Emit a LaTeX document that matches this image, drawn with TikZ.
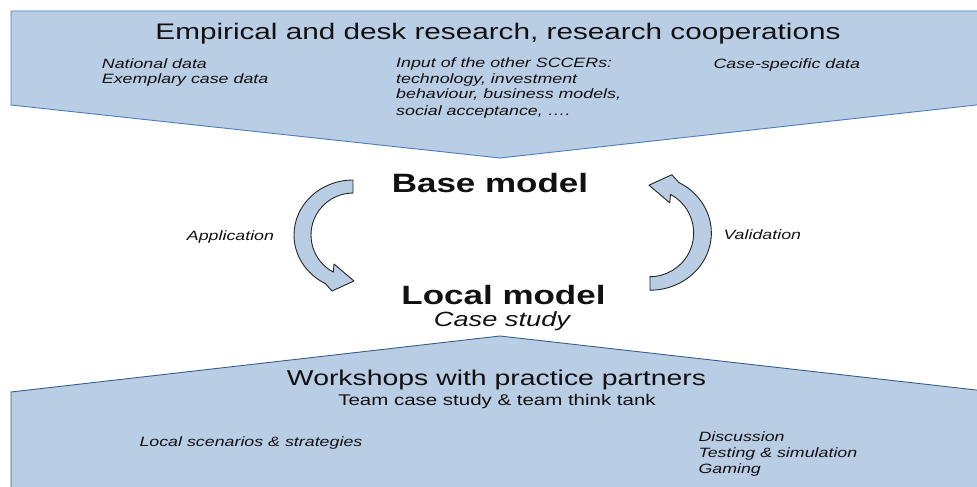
\documentclass[tikz,border=0pt]{standalone}
\usepackage{fontspec}
\setmainfont{Liberation Sans}[FakeStretch=1.32]
\definecolor{boxfill}{HTML}{B9CDE5}
\definecolor{topline}{HTML}{4A7EBB}
\definecolor{botline}{HTML}{385D8A}
\definecolor{ink}{HTML}{111111}
\tikzset{
  txt/.style={inner sep=0pt, text=ink},
  titletxt/.style={txt, font=\fontsize{22.5}{26}\selectfont},
  modeltxt/.style={txt, font=\bfseries\fontsize{26.5}{30}\selectfont},
  casetxt/.style={txt, font=\itshape\fontsize{20.6}{24}\selectfont},
  wstxt/.style={txt, font=\fontsize{21.5}{25}\selectfont},
  teamtxt/.style={txt, font=\fontsize{15.5}{18}\selectfont},
  smalltxt/.style={txt, font=\itshape\fontsize{13.5}{16}\selectfont, align=left},
  arrowfill/.style={fill=boxfill, draw=black!85, line width=0.9pt, line join=round},
  circarrow/.pic={
    \path[arrowfill] (0,-55) arc[start angle=270, end angle=118, x radius=59, y radius=55]
      -- (-21,56) -- (1,46) -- (-19,29) -- (-19.7,37.1)
      arc[start angle=118, end angle=270, radius=42] -- cycle;
  }
}
\begin{document}
\begin{tikzpicture}[x=1pt,y=-1pt]
\useasboundingbox (0,0) rectangle (977,487);
\clip (0,0) rectangle (977,487);
% top band
\path[fill=boxfill, draw=topline, line width=0.9pt]
  (11,11) -- (985,11) -- (985,104) -- (500,158) -- (11,105) -- cycle;
% bottom band
\path[fill=boxfill, draw=botline, line width=0.9pt]
  (11,392) -- (500,336) -- (985,391) -- (985,495) -- (11,495) -- cycle;
% curved arrows
\pic at (353,235) {circarrow};
\pic[rotate=180, scale=1.04] at (650,233) {circarrow};
% texts
\node[titletxt, anchor=base] (title) at (498,40) {Empirical and desk research, research cooperations};
\node[smalltxt, anchor=base west] (nat) at (101.7,84) {National data\\Exemplary case data};
\node[smalltxt, anchor=base west] (inp) at (396,115) {Input of the other SCCERs:\\technology, investment\\behaviour, business models,\\social acceptance, ….};
\node[smalltxt, anchor=base west] (csd) at (713.3,68.3) {Case-specific data};
\node[modeltxt, anchor=base] (base) at (490,192.3) {Base model};
\node[modeltxt, anchor=base] (local) at (503.5,304.7) {Local model};
\node[casetxt, anchor=base] (case) at (502,326.3) {Case study};
\node[smalltxt, anchor=base west] (app) at (186.7,240) {Application};
\node[smalltxt, anchor=base west] (val) at (723.3,239) {Validation};
\node[wstxt, anchor=base] (ws) at (496.5,385) {Workshops with practice partners};
\node[teamtxt, anchor=base] (team) at (497,405) {Team case study \& team think tank};
\node[smalltxt, anchor=base west] (loc) at (139.3,446.7) {Local scenarios \& strategies};
\node[smalltxt, anchor=base west] (disc) at (698.3,473.5) {Discussion\\Testing \& simulation\\Gaming};
\end{tikzpicture}
\end{document}
